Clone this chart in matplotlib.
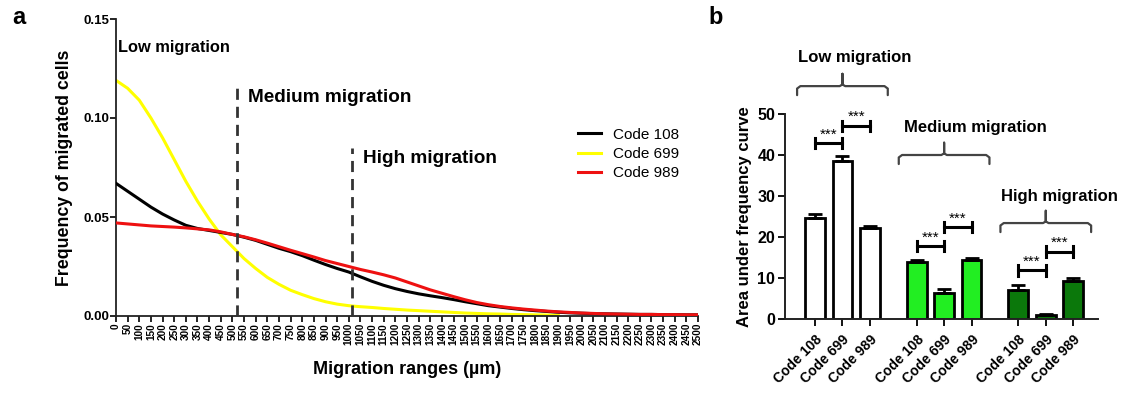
import matplotlib
matplotlib.use("Agg")
import matplotlib.pyplot as plt
import numpy as np

plt.rcParams['font.family'] = ['Liberation Sans', 'DejaVu Sans']

# ---- panel a data ----
ranges = np.arange(0, 2501, 50)
code108 = [0.067, 0.063, 0.059, 0.055, 0.0515, 0.0485, 0.0458, 0.0442, 0.0432, 0.0422,
           0.0412, 0.0398, 0.0382, 0.0362, 0.0342, 0.0325, 0.0305, 0.0282, 0.026, 0.024,
           0.0222, 0.0198, 0.0175, 0.0155, 0.0138, 0.0124, 0.0112, 0.0102, 0.0093, 0.0083,
           0.0072, 0.0062, 0.0052, 0.0045, 0.0038, 0.0032, 0.0027, 0.0023, 0.0019, 0.0016,
           0.0014, 0.0012, 0.0011, 0.001, 0.0009, 0.0008, 0.0008, 0.0007, 0.0007, 0.0006, 0.0006]
code699 = [0.119, 0.115, 0.109, 0.1, 0.09, 0.079, 0.068, 0.058, 0.049, 0.041,
           0.035, 0.029, 0.024, 0.0195, 0.016, 0.013, 0.0108, 0.0088, 0.0072, 0.006,
           0.0052, 0.0047, 0.0043, 0.0038, 0.0034, 0.003, 0.0027, 0.0024, 0.0021, 0.0018,
           0.0015, 0.0013, 0.0011, 0.001, 0.0008, 0.0007, 0.0006, 0.0005, 0.0004, None,
           None, None, None, None, None, None, None, None, None, None, None]
code989 = [0.047, 0.0465, 0.046, 0.0455, 0.0452, 0.0449, 0.0445, 0.044, 0.0435, 0.0425,
           0.0412, 0.04, 0.0385, 0.0368, 0.035, 0.0332, 0.0315, 0.0298, 0.028, 0.0265,
           0.025, 0.0235, 0.0222, 0.0208, 0.0192, 0.0172, 0.0152, 0.0132, 0.0115, 0.0098,
           0.0082, 0.0068, 0.0057, 0.0048, 0.0041, 0.0035, 0.003, 0.0025, 0.0021, 0.0018,
           0.0015, 0.0013, 0.0011, 0.001, 0.0009, 0.0008, 0.0008, 0.0007, 0.0007, 0.0006, 0.0006]
boundaries = [520, 1015]
boundary_tops = [0.115, 0.085]

# ---- panel b data ----
codes = ['Code 108', 'Code 699', 'Code 989']
groups = ['Low migration', 'Medium migration', 'High migration']
auc = [[24.6, 38.5, 22.2], [14.0, 6.3, 14.5], [7.1, 0.9, 9.3]]
auc_err = [[1.0, 1.3, 0.4], [0.4, 1.1, 0.3], [1.1, 0.3, 0.6]]
group_colors = ['white', '#22ee22', '#0b780b']
sig_levels = [[42.9, 47.1], [17.8, 22.4], [11.9, 16.4]]
brace_y = [56.8, 40.0, 23.4]
label_y = [63.7, 46.6, 30.0]
label_shift = [0.45, 1.15, 0.5]

fig = plt.figure(figsize=(11.21, 3.94), dpi=100)

# ================= panel a =================
ax1 = fig.add_axes([116 / 1121, 1 - 316 / 394, (698 - 116) / 1121, 297 / 394])
y108 = np.array(code108, dtype=float)
y699 = np.array([np.nan if v is None else v for v in code699], dtype=float)
y989 = np.array(code989, dtype=float)
ax1.plot(ranges, y699, color='#ffff00', lw=2.2, label='Code 699', zorder=2)
ax1.plot(ranges, y108, color='black', lw=2.2, label='Code 108', zorder=3)
ax1.plot(ranges, y989, color='#ee1111', lw=2.2, label='Code 989', zorder=4)

for bx, bt in zip(boundaries, boundary_tops):
    ax1.plot([bx, bx], [0, bt], color='#333333', lw=2, ls=(0, (4, 2.5)), zorder=5)

ax1.set_xlim(0, 2500)
ax1.set_ylim(0, 0.15)
ax1.set_xticks(ranges)
ax1.set_xticklabels([str(v) for v in ranges], rotation=90, fontsize=7.2,
                    fontweight='bold')
ax1.set_yticks([0, 0.05, 0.10, 0.15])
ax1.set_yticklabels(['0.00', '0.05', '0.10', '0.15'], fontsize=9.5, fontweight='bold')
ax1.tick_params(axis='both', direction='out', length=4, width=1.2, pad=1)
for s in ['top', 'right']:
    ax1.spines[s].set_visible(False)
for s in ['left', 'bottom']:
    ax1.spines[s].set_linewidth(1.3)
    ax1.spines[s].set_color('#222222')
ax1.set_xlabel('Migration ranges (µm)', fontsize=13, fontweight='bold', labelpad=11)
ax1.set_ylabel('Frequency of migrated cells', fontsize=12.8, fontweight='bold', labelpad=7)

ax1.text(8, 0.1355, 'Low migration', fontsize=11.8, fontweight='bold', va='center')
ax1.text(565, 0.1105, 'Medium migration', fontsize=13.7, fontweight='bold', va='center')
ax1.text(1060, 0.0795, 'High migration', fontsize=13.7, fontweight='bold', va='center')

handles, labels = ax1.get_legend_handles_labels()
order = [1, 0, 2]
ax1.legend([handles[i] for i in order], [labels[i] for i in order],
           loc='upper left', bbox_to_anchor=(0.77, 0.68), frameon=False,
           fontsize=11, handlelength=1.5, handletextpad=0.8, labelspacing=0.35)

fig.text(12 / 1121, 1 - 18 / 394, 'a', fontsize=17, fontweight='bold', va='center')
fig.text(708 / 1121, 1 - 17 / 394, 'b', fontsize=17, fontweight='bold', va='center')

# ================= panel b =================
ax2 = fig.add_axes([785 / 1121, 1 - 319 / 394, (1098 - 785) / 1121, 205 / 394])
offsets = [0, 3.7, 7.4]
positions = []
for g, off in enumerate(offsets):
    xs = [off + i for i in range(3)]
    positions += xs
    ax2.bar(xs, auc[g], width=0.72, color=group_colors[g], edgecolor='black',
            linewidth=2, zorder=2)
    ax2.errorbar(xs, auc[g], yerr=[[0, 0, 0], auc_err[g]], fmt='none',
                 ecolor='black', elinewidth=2, capsize=5, capthick=2, zorder=3)
    # significance bars
    for k in range(2):
        x0, x1 = xs[k], xs[k + 1]
        yy = sig_levels[g][k]
        ax2.plot([x0, x1], [yy, yy], color='black', lw=2.2, clip_on=False, zorder=4)
        ax2.plot([x0, x0], [yy - 1.3, yy + 1.3], color='black', lw=2.2, clip_on=False)
        ax2.plot([x1, x1], [yy - 1.3, yy + 1.3], color='black', lw=2.2, clip_on=False)
        ax2.text((x0 + x1) / 2, yy + 0.4, '***', ha='center', va='bottom',
                 fontsize=11, clip_on=False)
    # curly bracket
    left, right = off - 0.65, off + 2.65
    mid = (left + right) / 2
    by = brace_y[g]
    bx = [left, left, left + 0.12, mid - 0.1, mid, mid, mid, mid + 0.1,
          right - 0.12, right, right]
    byy = [by - 2.2, by - 0.6, by, by, by + 0.4, by + 3.0, by + 0.4, by,
           by, by - 0.6, by - 2.2]
    ax2.plot(bx, byy, color='#444444', lw=1.6, clip_on=False, solid_capstyle='round')
    ax2.text(mid + label_shift[g], label_y[g], groups[g], ha='center', va='center',
             fontsize=12, fontweight='bold', clip_on=False)

ax2.set_xlim(-1.09, 10.3)
ax2.set_ylim(0, 50)
ax2.set_yticks([0, 10, 20, 30, 40, 50])
ax2.set_yticklabels(['0', '10', '20', '30', '40', '50'], fontsize=11.5, fontweight='bold')
ax2.set_xticks(positions)
ax2.set_xticklabels(codes * 3, rotation=45, ha='right', rotation_mode='anchor',
                    fontsize=10, fontweight='bold')
ax2.tick_params(axis='both', direction='out', length=5, width=1.3, pad=2)
ax2.tick_params(axis='x', pad=5)
for s in ['top', 'right']:
    ax2.spines[s].set_visible(False)
for s in ['left', 'bottom']:
    ax2.spines[s].set_linewidth(1.4)
    ax2.spines[s].set_color('#222222')
ax2.set_ylabel('Area under frequency curve', fontsize=12, fontweight='bold', labelpad=4)

fig.savefig('out.png', dpi=100)
